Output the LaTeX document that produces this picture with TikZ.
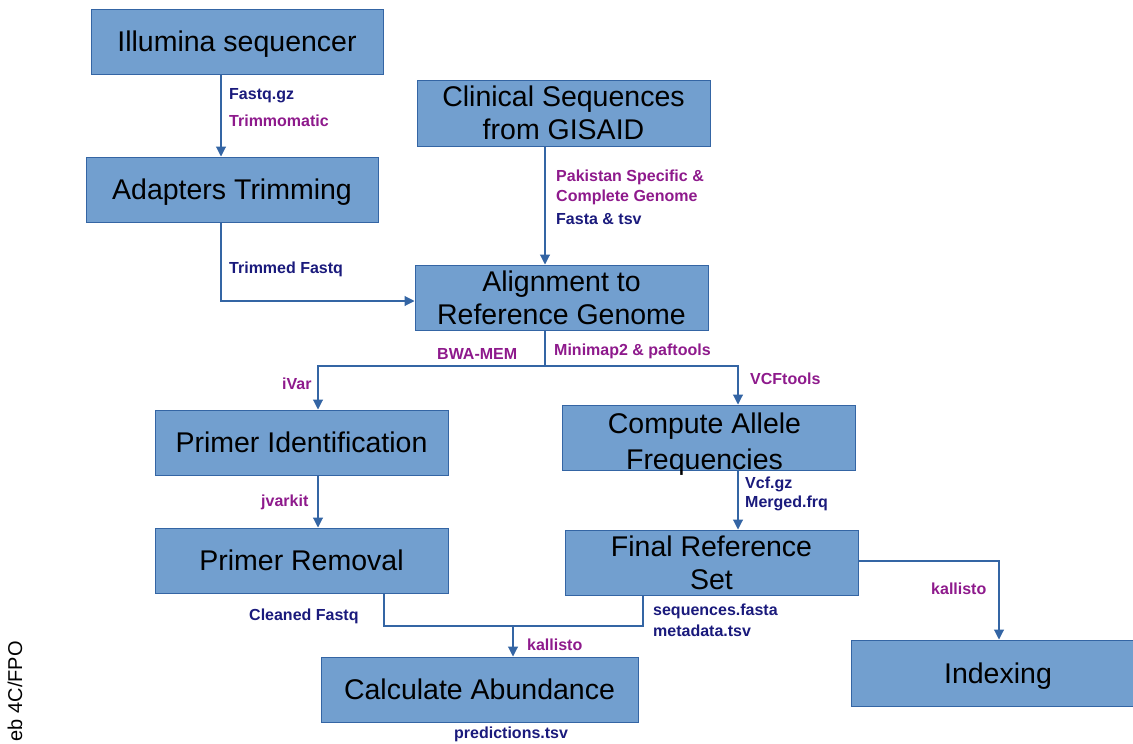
\documentclass[tikz,border=0pt]{standalone}
\usepackage{fontspec}
\setmainfont{Liberation Sans}
\usetikzlibrary{arrows.meta}
\definecolor{boxfill}{HTML}{729FCF}
\definecolor{boxline}{HTML}{3465A4}
\definecolor{navy}{HTML}{1A1A7C}
\definecolor{purp}{HTML}{8E1A8C}
\tikzset{
  stage/.style={draw=boxline, line width=1pt, fill=boxfill, minimum height=65pt, inner sep=0pt, align=center, text depth=0pt, font=\fontsize{28.5}{33}\selectfont},
  bigtext/.style={inner sep=0pt, align=center, text depth=0pt, font=\fontsize{28.5}{33}\selectfont},
  conn/.style={draw=boxline, line width=1.1pt},
  arr/.style={conn, -{Triangle[width=10pt,length=10pt]}},
  lab/.style={anchor=west, inner sep=0pt, font=\fontsize{16}{20}\selectfont\bfseries},
  nv/.style={lab, text=navy},
  pu/.style={lab, text=purp},
}
\begin{document}
\begin{tikzpicture}[x=1pt,y=-1pt]
\useasboundingbox (0,0) rectangle (1133,744);
% boxes
\node[stage, minimum width=292pt] (illu) at (237,41.5) {Illumina sequencer};
\node[stage, minimum width=292pt] (adap) at (232,189.5) {Adapters Trimming};
\node[stage, minimum width=293pt, minimum height=66pt] (clin) at (563.5,113) {Clinical Sequences\\from GISAID};
\node[stage, minimum width=293pt] (align) at (561.5,297.5) {Alignment to\\Reference Genome};
\node[stage, minimum width=293pt] (pid) at (301.5,442.5) {Primer Identification};
\node[stage, minimum width=293pt] (cafreq) at (708.5,437.5) {};
\node[bigtext, font=\fontsize{28.5}{36}\selectfont] (cafreqt) at (704.5,441) {Compute Allele\\Frequencies};
\node[stage, minimum width=293pt] (prem) at (301.5,560.5) {Primer Removal};
\node[stage, minimum width=293pt] (final) at (711.5,562.5) {Final Reference\\Set};
\node[stage, minimum width=317pt] (calc) at (479.5,689.5) {Calculate Abundance};
\node[stage, minimum width=300pt, minimum height=66pt] (index) at (1001,673) {};
\node[bigtext] (indext) at (998,673) {Indexing};
% helper coordinates
\coordinate (j1) at (545,366);
\coordinate (j2) at (513,626);
% connectors
\draw[arr] (illu.south -| 221,0) -- (adap.north -| 221,0);
\draw[arr] (adap.south -| 221,0) |- (align.west |- 0,301);
\draw[arr] (clin.south -| 545,0) -- (align.north -| 545,0);
\draw[conn] (align.south -| 545,0) -- (j1);
\draw[arr] (j1) -| (pid.north -| 318,0);
\draw[arr] (j1) -| (cafreq.north -| 738,0);
\draw[arr] (pid.south -| 318,0) -- (prem.north -| 318,0);
\draw[arr] (cafreq.south -| 738,0) -- (final.north -| 738,0);
\draw[conn] (prem.south -| 384,0) |- (j2);
\draw[conn] (final.south -| 643,0) |- (j2);
\draw[arr] (j2) -- (calc.north -| 513,0);
\draw[arr] (final.east |- 0,561) -| (index.north -| 999,0);
% labels
\node[nv] (l1) at (229,96) {Fastq.gz};
\node[pu] (l2) at (229,121) {Trimmomatic};
\node[nv] (l3) at (229,269) {Trimmed Fastq};
\node[pu] (l4) at (556,177) {Pakistan Specific \&};
\node[pu] (l5) at (556,197) {Complete Genome};
\node[nv] (l6) at (556,219) {Fasta \& tsv};
\node[pu] (l7) at (437,354) {BWA-MEM};
\node[pu] (l8) at (554,351) {Minimap2 \& paftools};
\node[pu] (l9) at (282,384) {iVar};
\node[pu] (l10) at (750,379) {VCFtools};
\node[pu] (l11) at (261,502) {jvarkit};
\node[nv] (l12) at (745,484) {Vcf.gz};
\node[nv] (l13) at (745,503) {Merged.frq};
\node[nv] (l14) at (249,616) {Cleaned Fastq};
\node[nv] (l15) at (653,611) {sequences.fasta};
\node[nv] (l16) at (653,631) {metadata.tsv};
\node[pu] (l17) at (527,645) {kallisto};
\node[pu] (l18) at (931,589) {kallisto};
\node[nv] (l19) at (454,734.5) {predictions.tsv};
\node[rotate=90, anchor=east, inner sep=0pt, font=\fontsize{20}{22}\selectfont] (fpo) at (15,641) {eb 4C/FPO};
\end{tikzpicture}
\end{document}
